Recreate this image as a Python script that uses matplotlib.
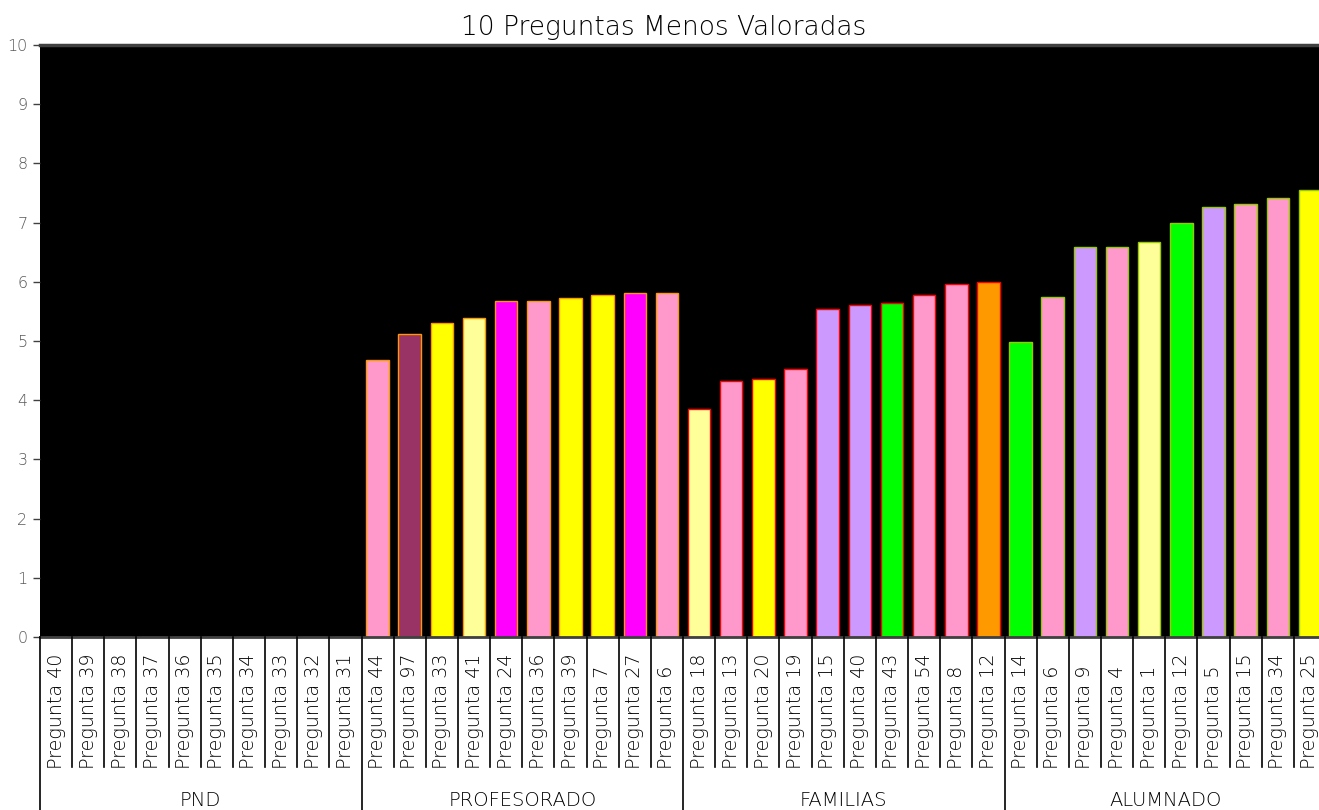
import matplotlib
matplotlib.use("Agg")
import matplotlib.pyplot as plt
from matplotlib.transforms import blended_transform_factory

plt.rcParams['font.family'] = ['DejaVu Sans']

groups = ["PND", "PROFESORADO", "FAMILIAS", "ALUMNADO"]

pnd_labels = ["Pregunta 40", "Pregunta 39", "Pregunta 38", "Pregunta 37", "Pregunta 36",
              "Pregunta 35", "Pregunta 34", "Pregunta 33", "Pregunta 32", "Pregunta 31"]
pnd_values = [0, 0, 0, 0, 0, 0, 0, 0, 0, 0]
pnd_colors = ["#FF99CC"] * 10

prof_labels = ["Pregunta 44", "Pregunta 97", "Pregunta 33", "Pregunta 41", "Pregunta 24",
               "Pregunta 36", "Pregunta 39", "Pregunta 7", "Pregunta 27", "Pregunta 6"]
prof_values = [4.68, 5.12, 5.30, 5.39, 5.68, 5.68, 5.72, 5.78, 5.81, 5.81]
prof_colors = ["#FF99CC", "#993366", "#FFFF00", "#FFFF99", "#FF00FF",
               "#FF99CC", "#FFFF00", "#FFFF00", "#FF00FF", "#FF99CC"]

fam_labels = ["Pregunta 18", "Pregunta 13", "Pregunta 20", "Pregunta 19", "Pregunta 15",
              "Pregunta 40", "Pregunta 43", "Pregunta 54", "Pregunta 8", "Pregunta 12"]
fam_values = [3.85, 4.32, 4.35, 4.52, 5.54, 5.61, 5.65, 5.77, 5.96, 6.00]
fam_colors = ["#FFFF99", "#FF99CC", "#FFFF00", "#FF99CC", "#CC99FF",
              "#CC99FF", "#00FF00", "#FF99CC", "#FF99CC", "#FF9900"]

alu_labels = ["Pregunta 14", "Pregunta 6", "Pregunta 9", "Pregunta 4", "Pregunta 1",
              "Pregunta 12", "Pregunta 5", "Pregunta 15", "Pregunta 34", "Pregunta 25"]
alu_values = [4.98, 5.75, 6.58, 6.58, 6.68, 7.00, 7.26, 7.31, 7.41, 7.55]
alu_colors = ["#00FF00", "#FF99CC", "#CC99FF", "#FF99CC", "#FFFF99",
              "#00FF00", "#CC99FF", "#FF99CC", "#FF99CC", "#FFFF00"]

edge_colors = ["#FF9900", "#FF9900", "#FF0000", "#99CC00"]

yticks = [0, 1, 2, 3, 4, 5, 6, 7, 8, 9, 10]

all_labels = [pnd_labels, prof_labels, fam_labels, alu_labels]
all_values = [pnd_values, prof_values, fam_values, alu_values]
all_colors = [pnd_colors, prof_colors, fam_colors, alu_colors]

W, H = 1319, 810
fig = plt.figure(figsize=(W / 100, H / 100), dpi=100)
ax = fig.add_axes([40 / W, 1 - 637 / H, (1326 - 40) / W, (637 - 45) / H])
ax.set_facecolor("black")

labels = []
pos = 0
for g, (labs, vals, cols) in enumerate(zip(all_labels, all_values, all_colors)):
    xs = list(range(pos, pos + len(labs)))
    ax.bar(xs, vals, width=0.70, color=cols, edgecolor=edge_colors[g], linewidth=1.0, zorder=2)
    labels += labs
    pos += len(labs)

n = len(labels)
ax.set_xlim(-0.5, n - 0.5)
ax.set_ylim(0, 10)
ax.set_yticks(yticks)
ax.set_yticklabels([str(t) for t in yticks], fontsize=11.5, color="#595959", fontweight="light")
ax.tick_params(axis="y", length=5, width=1, color="#404040", pad=4)
ax.set_xticks(range(n))
ax.set_xticklabels([])
ax.tick_params(axis="x", length=0)

for s in ["left", "right"]:
    ax.spines[s].set_visible(False)
ax.spines["top"].set_color("#404040")
ax.spines["top"].set_linewidth(2.5)
ax.spines["bottom"].set_color("#404040")
ax.spines["bottom"].set_linewidth(2.0)

trans = blended_transform_factory(ax.transData, ax.transAxes)
axes_h = (637 - 45)
short_bottom = -(767 - 637) / axes_h
long_bottom = -(812 - 637) / axes_h
for i in range(n + 1):
    x = i - 0.5
    yb = long_bottom if i % 10 == 0 else short_bottom
    ax.plot([x, x], [0, yb], transform=trans, color="black", lw=1.2, clip_on=False, zorder=5)

label_bottom = -(769 - 637) / axes_h
for i, lab in enumerate(labels):
    ax.text(i, label_bottom, lab, transform=trans, rotation=90, ha="center", va="bottom",
            fontsize=13.8, color="black", fontweight="light")

for g, name in enumerate(groups):
    xc = g * 10 + 4.5
    ax.text(xc, -(801 - 637) / axes_h, name, transform=trans, ha="center", va="center",
            fontsize=14, color="black", fontweight="light")

fig.text(663.5 / W, 1 - 28 / H, "10 Preguntas Menos Valoradas",
         ha="center", va="center", fontsize=19, color="black", fontweight="light")

fig.savefig("out.png", dpi=100, facecolor="white")
